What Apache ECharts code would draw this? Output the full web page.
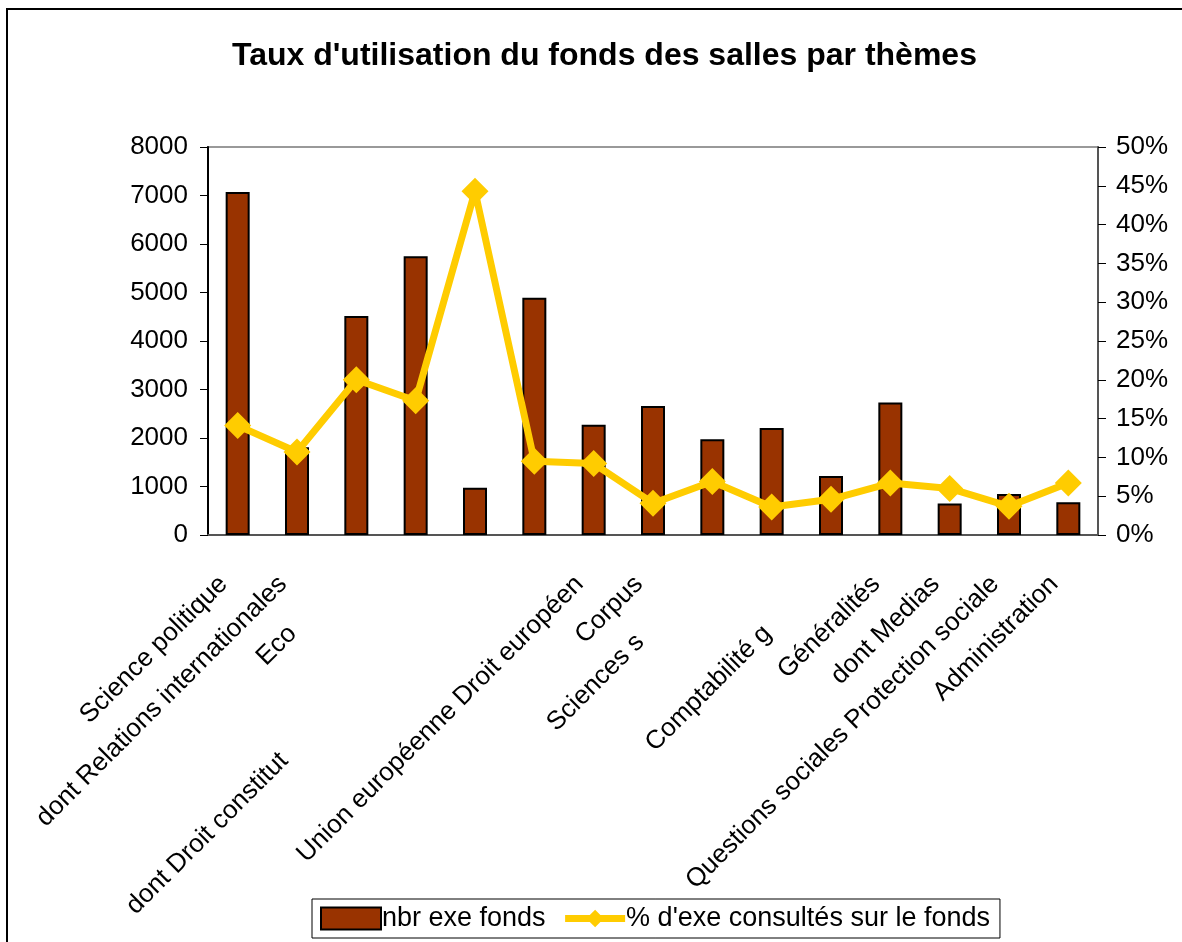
<!DOCTYPE html>
<html>
<head>
<meta charset="utf-8">
<script src="https://cdn.jsdelivr.net/npm/echarts@6/dist/echarts.min.js"></script>
<style>
  html, body { margin: 0; padding: 0; background: #fff; }
  #chart { width: 1182px; height: 942px; }
  #frame {
    position: absolute; left: 6px; top: 8px; width: 1176px; height: 934px;
    border-left: 2px solid #000; border-top: 2px solid #000; pointer-events: none;
  }
</style>
</head>
<body>
<div id="chart"></div>
<div id="frame"></div>
<script>
// catégories (texte visible sur l'image, les libellés coupés restent coupés)
const categories = [
  'Science politique',
  'dont Relations internationales',
  'Eco',
  '',
  'dont Droit constitut',
  '',
  'Union européenne Droit européen',
  'Corpus',
  'Sciences s',
  '',
  'Comptabilité g',
  'Généralités',
  'dont Medias',
  'Questions sociales Protection sociale',
  'Administration'
]

// nbr exe fonds
const nbrExeFonds = [7070, 1810, 4515, 5750, 975, 4890, 2275, 2660, 1975, 2205, 1215, 2730, 650, 845, 675]

// % d'exe consultés sur le fonds
const pctConsultes = [0.141, 0.107, 0.200, 0.173, 0.443, 0.095, 0.092, 0.041, 0.069, 0.036, 0.046, 0.067, 0.060, 0.037, 0.067]

const leftTicks = { min: 0, max: 8000, interval: 1000 }
const rightTicks = { min: 0, max: 0.5, interval: 0.05 }

// décalage des libellés coupés (style uniquement)
const labelShift = [0, 0, 70, 0, 250, 0, 0, 0, 82, 0, 70, 0, 0, 0, 0]

const font = 'Liberation Sans, Arial, sans-serif'

const rich = {}
labelShift.forEach((s, i) => {
  if (s) {
    rich['s' + i] = { fontSize: 26, fontFamily: font, color: '#000', padding: [0, s, 0, 0] }
  }
})

const myChart = echarts.init(document.getElementById('chart'))
myChart.setOption({
  animation: false,
  title: {
    text: "Taux d'utilisation du fonds des salles par thèmes",
    left: 227,
    top: 35,
    textStyle: { fontFamily: font, fontSize: 32, fontWeight: 'bold', color: '#000' }
  },
  legend: {
    left: 312,
    bottom: 4,
    itemWidth: 60,
    itemHeight: 22,
    itemGap: 16,
    padding: [6, 10, 6, 8],
    borderColor: '#000',
    borderWidth: 1,
    lineStyle: { width: 7 },
    textStyle: { fontFamily: font, fontSize: 27, color: '#000', padding: [0, 0, 0, -4] },
    data: [
      { name: 'nbr exe fonds', icon: 'rect' },
      { name: "% d'exe consultés sur le fonds" }
    ]
  },
  grid: {
    left: 208,
    right: 84,
    top: 147,
    bottom: 407,
    show: true,
    borderColor: '#999',
    borderWidth: 2
  },
  xAxis: {
    type: 'category',
    data: categories,
    axisLine: { lineStyle: { color: '#555', width: 2 } },
    axisTick: { length: 8, lineStyle: { color: '#000' } },
    axisLabel: {
      interval: 0,
      rotate: 45,
      margin: 31,
      padding: [0, 20, 0, 0],
      fontFamily: font,
      fontSize: 26,
      color: '#000',
      formatter: (v, i) => (labelShift[i] ? `{s${i}|${v}}` : v),
      rich: rich
    }
  },
  yAxis: [
    {
      type: 'value',
      ...leftTicks,
      axisLine: { show: true, lineStyle: { color: '#000', width: 2 } },
      axisTick: { show: true, length: 8, lineStyle: { color: '#000' } },
      axisLabel: {
        margin: 20,
        fontFamily: font,
        fontSize: 26,
        color: '#000',
        formatter: (v) => String(v)
      },
      splitLine: { show: false }
    },
    {
      type: 'value',
      ...rightTicks,
      position: 'right',
      axisLine: { show: true, lineStyle: { color: '#555', width: 2 } },
      axisTick: { show: true, length: 8, lineStyle: { color: '#000' } },
      axisLabel: {
        margin: 18,
        fontFamily: font,
        fontSize: 26,
        color: '#000',
        formatter: (v) => Math.round(v * 100) + '%'
      },
      splitLine: { show: false }
    }
  ],
  series: [
    {
      name: 'nbr exe fonds',
      type: 'bar',
      data: nbrExeFonds,
      barWidth: 24,
      itemStyle: { color: '#993300', borderColor: '#000', borderWidth: 2 }
    },
    {
      name: "% d'exe consultés sur le fonds",
      type: 'line',
      yAxisIndex: 1,
      data: pctConsultes,
      symbol: 'diamond',
      symbolSize: 27,
      z: 5,
      itemStyle: { color: '#FFCC00' },
      lineStyle: { color: '#FFCC00', width: 7 }
    }
  ]
})
</script>
</body>
</html>
